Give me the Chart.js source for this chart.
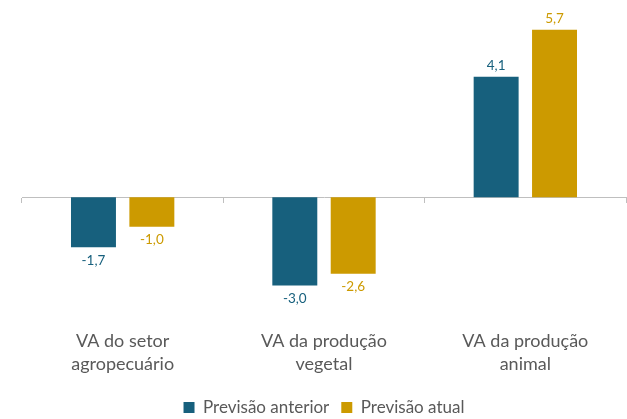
<!DOCTYPE html>
<html>
<head>
<meta charset="utf-8">
<script src="https://cdn.jsdelivr.net/npm/chart.js@4/dist/chart.umd.min.js"></script>
<style>
  html, body { margin: 0; padding: 0; background: #fff; }
  #wrap { width: 627px; height: 419px; position: relative; }
</style>
</head>
<body>
<div id="wrap"><canvas id="chart"></canvas></div>
<script>
const categories = [
  ['VA do setor', 'agropecuário'],
  ['VA da produção', 'vegetal'],
  ['VA da produção', 'animal'],
];
const previsaoAnterior = [-1.7, -3.0, 4.1];
const previsaoAtual = [-1.0, -2.6, 5.7];
const seriesNames = ['Previsão anterior', 'Previsão atual'];
const seriesColors = ['#17607d', '#cc9a00'];

const FONT = 'Lato, "Open Sans", sans-serif';
const GRAY = '#595959';
const AXIS_GRAY = '#bfbfbf';

// value labels above / below each bar
const valueLabels = {
  id: 'valueLabels',
  afterDatasetsDraw(chart) {
    const ctx = chart.ctx;
    ctx.save();
    ctx.font = '13.5px ' + FONT;
    ctx.textAlign = 'center';
    ctx.textBaseline = 'middle';
    chart.data.datasets.forEach((ds, i) => {
      const meta = chart.getDatasetMeta(i);
      meta.data.forEach((bar, j) => {
        const v = ds.data[j];
        const txt = v.toFixed(1).replace('.', ',');
        ctx.fillStyle = seriesColors[i];
        const y = v >= 0 ? bar.y - 11 : bar.y + 13;
        ctx.fillText(txt, bar.x, y);
      });
    });
    ctx.restore();
  }
};

new Chart(document.getElementById('chart'), {
  type: 'bar',
  data: {
    labels: categories,
    datasets: [
      {
        label: seriesNames[0],
        data: previsaoAnterior,
        backgroundColor: seriesColors[0],
        borderWidth: 0,
        categoryPercentage: 0.58,
        barPercentage: 0.77,
      },
      {
        label: seriesNames[1],
        data: previsaoAtual,
        backgroundColor: seriesColors[1],
        borderWidth: 0,
        categoryPercentage: 0.58,
        barPercentage: 0.77,
      },
    ],
  },
  options: {
    responsive: true,
    maintainAspectRatio: false,
    animation: false,
    layout: { padding: { left: 22, right: 1, top: 21, bottom: -7 } },
    scales: {
      y: {
        display: false,
        min: -4.07,
        max: 6,
      },
      x: {
        position: { y: 0 },
        offset: true,
        ticks: { display: false },
        grid: {
          offset: true,
          drawOnChartArea: false,
          drawTicks: true,
          tickLength: 5,
          color: AXIS_GRAY,
        },
        border: { display: true, color: AXIS_GRAY },
      },
      x2: {
        axis: 'x',
        type: 'category',
        position: 'bottom',
        offset: true,
        grid: { display: false },
        border: { display: false },
        ticks: {
          color: GRAY,
          font: { family: FONT, size: 18, lineHeight: 1.25 },
          padding: 5,
          maxRotation: 0,
        },
        afterFit(scale) {
          scale.height += 7;
        },
      },
    },
    plugins: {
      legend: {
        position: 'bottom',
        labels: {
          color: GRAY,
          font: { family: FONT, size: 17 },
          boxWidth: 11,
          boxHeight: 11,
          padding: 12,
        },
      },
      tooltip: { enabled: false },
    },
  },
  plugins: [valueLabels],
});
</script>
</body>
</html>
